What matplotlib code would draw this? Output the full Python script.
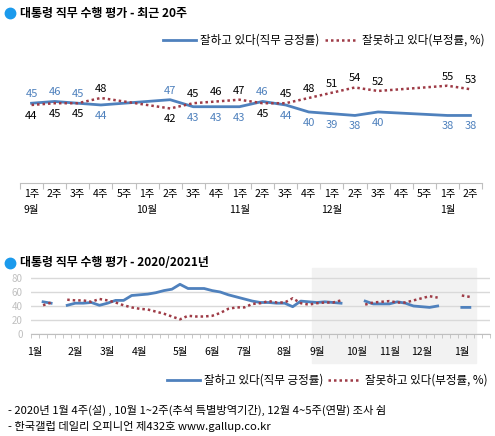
import matplotlib
matplotlib.use('Agg')
import matplotlib.pyplot as plt
import matplotlib.transforms as mtrans
from matplotlib.lines import Line2D
from matplotlib.patches import Rectangle
import numpy as np

plt.rcParams['font.family'] = ['Noto Sans CJK KR', 'DejaVu Sans']

# ---- data: 최근 20주 ----
weeks_top = ['1주', '2주', '3주', '4주', '5주',
             '1주', '2주', '3주', '4주',
             '1주', '2주', '3주', '4주',
             '1주', '2주', '3주', '4주', '5주',
             '1주', '2주']
months_top = ['9월', '10월', '11월', '12월', '1월']
month_slot_top = [0, 5, 9, 13, 18]
pos_top = [45, 46, 45, 44, None, None, 47, 43, 43, 43,
           46, 44, 40, 39, 38, 40, None, None, 38, 38]
neg_top = [44, 45, 45, 48, None, None, 42, 45, 46, 47,
           45, 45, 48, 51, 54, 52, None, None, 55, 53]

# ---- data: 2020/2021 weekly (weeks 0..34; weeks 35..54 = pos_top/neg_top) ----
pos_early = [None, 46, 44, None, 41, 44, 44, 45, 41, 44, 48, 48, 55, 56, 57, 59,
             62, 64, 71, 65, 65, 65, 62, 60, 56, 53, 50, 47, 45, 45, 44, 44, 39, 47, 46]
neg_early = [None, 41, 45, None, 49, 48, 48, 46, 50, 48, 45, 41, 38, 36, 35, 32,
             29, 25, 21, 26, 25, 25, 26, 30, 36, 38, 38, 43, 44, 47, 45, 45, 51, 44, 42]
months_year = ['1월', '2월', '3월', '4월', '5월', '6월', '7월',
               '8월', '9월', '10월', '11월', '12월', '1월']
month_week_year = [0, 5, 9, 13, 18, 22, 26, 31, 35, 40, 44, 48, 53]

BLUE = '#4F81BD'
RED = '#9E3B46'
BULLET = '#1B9AEC'
AXIS = '#bfbfbf'

W, H = 495, 436
fig = plt.figure(figsize=(W / 100, H / 100), dpi=100)


def fx(x):
    return x / W


def fy(y):
    return 1 - y / H


def add_axes_px(x0, y0, x1, y1):
    return fig.add_axes([x0 / W, 1 - y1 / H, (x1 - x0) / W, (y1 - y0) / H])


def title(y, s):
    fig.add_artist(Line2D([fx(10)], [fy(y)], marker='o', markersize=7.5,
                          color=BULLET, transform=fig.transFigure))
    fig.text(fx(20), fy(y), s, fontsize=8.6, fontweight='bold', va='center')


def legend(y, x_pos, x_neg):
    fig.add_artist(Line2D([fx(x_pos), fx(x_pos + 33)], [fy(y), fy(y)], color=BLUE,
                          lw=2, transform=fig.transFigure))
    fig.text(fx(x_pos + 37), fy(y), '잘하고 있다(직무 긍정률)', fontsize=8.3, va='center')
    fig.add_artist(Line2D([fx(x_neg), fx(x_neg + 33)], [fy(y), fy(y)], color=RED,
                          lw=1.8, linestyle=(0, (1, 1.2)), transform=fig.transFigure))
    fig.text(fx(x_neg + 37), fy(y), '잘못하고 있다(부정률, %)', fontsize=8.3, va='center')


# ================= top chart =================
title(13, '대통령 직무 수행 평가 - 최근 20주')
legend(40, 163, 325)

ax1 = add_axes_px(20, 60, 482, 183)
ax1.set_xlim(0, 20)
ax1.set_ylim(-0.6, 69.7)
for s in ['top', 'left', 'right']:
    ax1.spines[s].set_visible(False)
ax1.spines['bottom'].set_color(AXIS)
ax1.set_yticks([])
ax1.set_xticks(np.arange(0, 21))
ax1.set_xticklabels([])
ax1.tick_params(axis='x', length=4, color=AXIS)
ax1.patch.set_visible(False)

x_top = np.arange(20) + 0.5
p = np.array([np.nan if v is None else v for v in pos_top], dtype=float)
n = np.array([np.nan if v is None else v for v in neg_top], dtype=float)
ok = ~np.isnan(p)
ax1.plot(x_top[ok], p[ok], color=BLUE, lw=2)
ax1.plot(x_top[ok], n[ok], color=RED, lw=1.8, linestyle=(0, (1, 1.2)))

for i in np.where(ok)[0]:
    pv, nv = int(p[i]), int(n[i])
    up_p = pv >= nv
    ax1.annotate(str(pv), (x_top[i], pv), xytext=(0, 9 if up_p else -11),
                 textcoords='offset pixels', ha='center', va='center',
                 color=BLUE, fontsize=8)
    ax1.annotate(str(nv), (x_top[i], nv), xytext=(0, -11 if up_p else 9),
                 textcoords='offset pixels', ha='center', va='center',
                 color='black', fontsize=8)

tr1 = mtrans.blended_transform_factory(ax1.transData, fig.transFigure)
for i, w in enumerate(weeks_top):
    ax1.text(i + 0.5, fy(194), w, transform=tr1, ha='center', va='center', fontsize=7.5)
for m, i in zip(months_top, month_slot_top):
    ax1.text(i + 0.5, fy(210), m, transform=tr1, ha='center', va='center', fontsize=7.5)

# ================= bottom chart =================
title(263, '대통령 직무 수행 평가 - 2020/2021년')

ax2 = add_axes_px(31, 271, 490, 334)
ax2.set_xlim(-0.5, 56.2)
ax2.set_ylim(0, 90)
for s in ['top', 'left', 'right']:
    ax2.spines[s].set_visible(False)
ax2.spines['bottom'].set_color(AXIS)
ax2.patch.set_visible(False)
ax2.set_yticks([0, 20, 40, 60, 80])
ax2.tick_params(axis='y', length=0, labelsize=7, labelcolor='#c0c0c0', pad=6)
ax2.yaxis.grid(True, color='#d9d9d9', lw=1)
ax2.set_axisbelow(True)
ax2.set_xticks([])
ax2.set_xticks(np.arange(-0.5, 56.6, 1), minor=True)
ax2.tick_params(axis='x', which='minor', length=3, color=AXIS)

tr2 = mtrans.blended_transform_factory(ax2.transData, fig.transFigure)
fig.add_artist(Rectangle((34.4, fy(363)), 54.8 - 34.4, (363 - 268) / H,
                         transform=tr2, color='#f2f2f2', zorder=-1))

pos_year = pos_early + pos_top
neg_year = neg_early + neg_top
wk = np.arange(len(pos_year))
py = np.array([np.nan if v is None else v for v in pos_year], dtype=float)
ny = np.array([np.nan if v is None else v for v in neg_year], dtype=float)
ax2.plot(wk, py, color=BLUE, lw=2)
ax2.plot(wk, ny, color=RED, lw=1.8, linestyle=(0, (1, 1.2)))

for m, w in zip(months_year, month_week_year):
    ax2.text(w, fy(352), m, transform=tr2, ha='center', va='center', fontsize=7.5)

legend(380, 167, 328)

fig.text(fx(8), fy(410), '- 2020년 1월 4주(설) , 10월 1~2주(추석 특별방역기간), 12월 4~5주(연말) 조사 쉼',
         fontsize=8.1, va='center')
fig.text(fx(8), fy(426), '- 한국갤럽 데일리 오피니언 제432호 www.gallup.co.kr',
         fontsize=8.1, va='center')

fig.savefig('out.png', dpi=100)
